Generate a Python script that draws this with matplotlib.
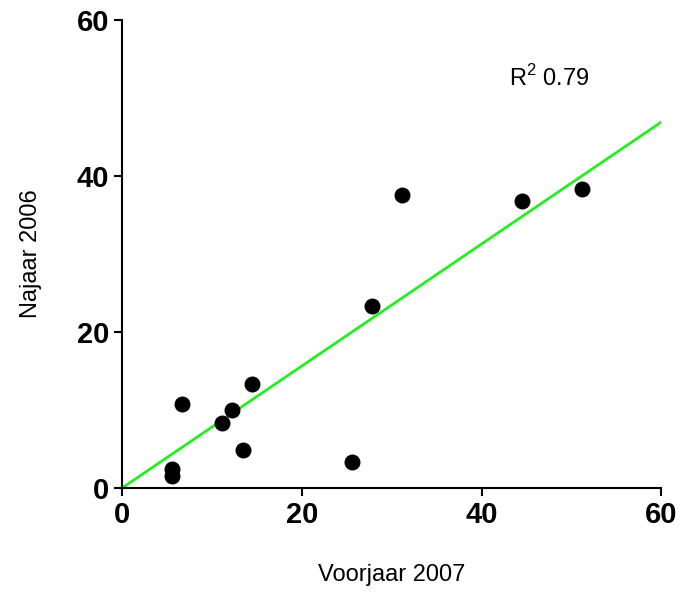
import matplotlib.pyplot as plt
import numpy as np

plt.rcParams['font.family'] = ['Liberation Sans', 'DejaVu Sans']

# === Données ===
voorjaar_2007 = [5.6, 5.6, 6.7, 11.1, 12.2, 13.4, 14.5, 25.6, 27.8, 31.2, 44.5, 51.2]
najaar_2006 = [2.4, 1.5, 10.8, 8.3, 10.0, 4.9, 13.3, 3.3, 23.3, 37.6, 36.8, 38.3]
fit_x = [0, 60]
fit_y = [0, 46.9]

fig = plt.figure(figsize=(6.86, 6.01), dpi=100)
ax = fig.add_axes([0.178, 0.188, 0.786, 0.779])

ax.plot(fit_x, fit_y, color="#22ee22", lw=2, zorder=1)
ax.scatter(voorjaar_2007, najaar_2006, s=110, color="black", zorder=2)

ax.set_xlim(0, 60)
ax.set_ylim(0, 60)
ax.set_xticks([0, 20, 40, 60])
ax.set_yticks([0, 20, 40, 60])
for s in ["top", "right"]:
    ax.spines[s].set_visible(False)
for s in ["left", "bottom"]:
    ax.spines[s].set_linewidth(1.5)
ax.tick_params(direction="out", length=6, width=1.5, labelsize=21)
for lab in ax.get_xticklabels() + ax.get_yticklabels():
    lab.set_fontweight("bold")

ax.set_xlabel("Voorjaar 2007", fontsize=17, labelpad=25)
ax.set_ylabel("Najaar 2006", fontsize=17, labelpad=25)
ax.text(43, 51.5, "R$^{\\mathregular{2}}$ 0.79", fontsize=17)

fig.savefig("out.png")
